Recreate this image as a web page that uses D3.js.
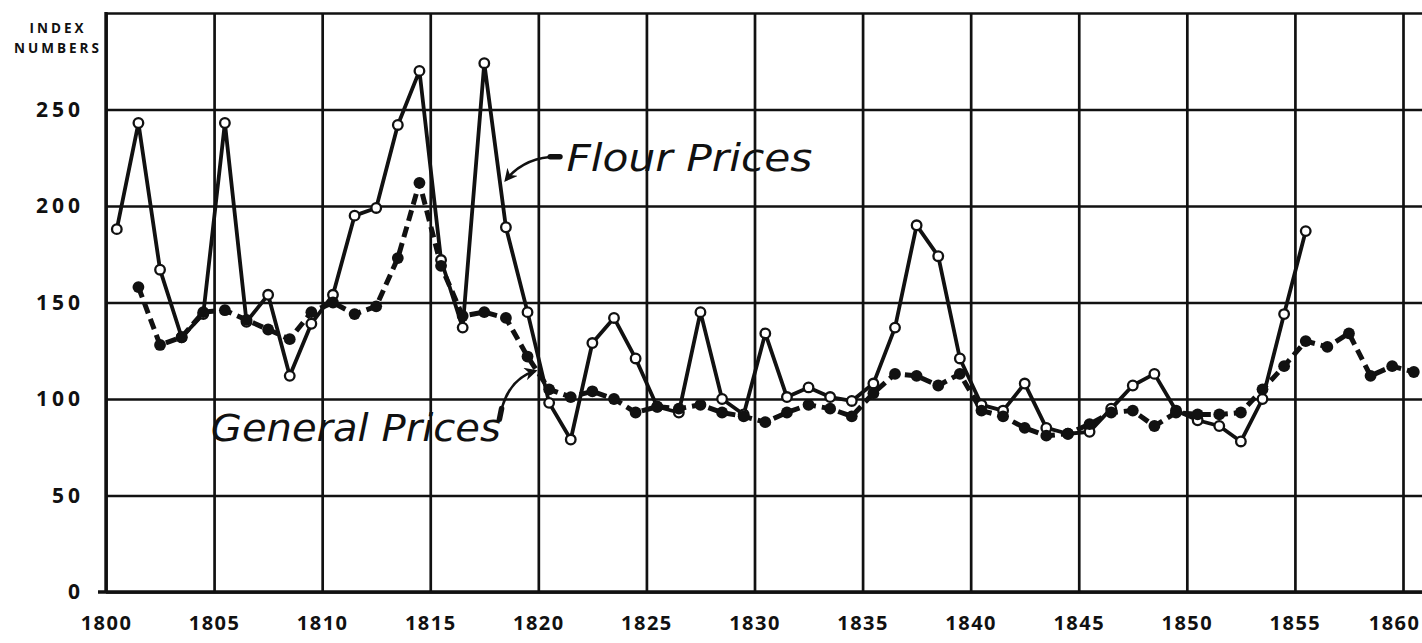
<!DOCTYPE html>
<html><head><meta charset="utf-8">
<script src="https://cdn.jsdelivr.net/npm/d3@7"></script>
<style>body{margin:0;background:#fff;} svg{display:block;}</style>
</head><body><svg id="c" width="1422" height="643"></svg>
<script>
// ---- data ----
const flourYears = [1800,1801,1802,1803,1804,1805,1806,1807,1808,1809,1810,1811,1812,1813,1814,1815,1816,1817,1818,1819,
  1820,1821,1822,1823,1824,1825,1826,1827,1828,1829,1830,1831,1832,1833,1834,1835,1836,1837,1838,1839,
  1840,1841,1842,1843,1844,1845,1846,1847,1848,1849,1850,1851,1852,1853,1854,1855];
const flourValues = [188,243,167,132,144,243,140,154,112,139,154,195,199,242,270,172,137,274,189,145,
  98,79,129,142,121,96,93,145,100,92,134,101,106,101,99,108,137,190,174,121,
  97,94,108,85,82,83,95,107,113,94,89,86,78,100,144,187];
const generalYears = [1801,1802,1803,1804,1805,1806,1807,1808,1809,1810,1811,1812,1813,1814,1815,1816,1817,1818,1819,
  1820,1821,1822,1823,1824,1825,1826,1827,1828,1829,1830,1831,1832,1833,1834,1835,1836,1837,1838,1839,
  1840,1841,1842,1843,1844,1845,1846,1847,1848,1849,1850,1851,1852,1853,1854,1855,1856,1857,1858,1859,1860];
const generalValues = [158,128,132,145,146,141,136,131,145,150,144,148,173,212,169,143,145,142,122,
  105,101,104,100,93,96,95,97,93,91,88,93,97,95,91,103,113,112,107,113,
  94,91,85,81,82,87,93,94,86,93,92,92,93,105,117,130,127,134,112,117,114];
const xTickValues = [1800,1805,1810,1815,1820,1825,1830,1835,1840,1845,1850,1855,1860];
const yTickValues = [0,50,100,150,200,250,300];
const yTickLabels = ["0","50","100","150","200","250",""];

// ---- layout ----
const W = 1422, H = 643;
const svg = d3.select("#c");
const x = d3.scaleLinear().domain([1800, 1860]).range([106, 1403]);
const y = d3.scaleLinear().domain([0, 300]).range([592, 13]);
const ink = "#111";

svg.append("rect").attr("width", W).attr("height", H).attr("fill", "#fff");

// horizontal grid + y labels
const gy = svg.append("g").attr("transform", `translate(${x(1800)},0)`)
  .call(d3.axisLeft(y).tickValues(yTickValues)
    .tickSize(-(W - x(1800)))
    .tickPadding(22)
    .tickFormat((d, i) => yTickLabels[i]));
gy.select(".domain").remove();
gy.selectAll("line").attr("stroke", ink).attr("stroke-width", 2.7);
gy.selectAll("text").attr("fill", ink)
  .style("font-family", "'Open Sans', 'DejaVu Sans', sans-serif")
  .style("font-weight", 700).style("font-size", "21px").style("letter-spacing", "4px");

// vertical grid + x labels
const gx = svg.append("g").attr("transform", `translate(0,${y(0)})`)
  .call(d3.axisBottom(x).tickValues(xTickValues)
    .tickSize(-(y(0) - y(300)))
    .tickPadding(24)
    .tickFormat(d3.format("d")));
gx.select(".domain").remove();
gx.selectAll("line").attr("stroke", ink).attr("stroke-width", 2.7);
gx.selectAll("text").attr("fill", ink)
  .style("font-family", "'Open Sans', 'DejaVu Sans', sans-serif")
  .style("font-weight", 700).style("font-size", "20px").style("letter-spacing", "1.5px");
// keep the last label inside the picture
gx.selectAll(".tick").filter(d => d === xTickValues[xTickValues.length - 1])
  .select("text").attr("text-anchor", "end").attr("x", W - 2 - x(xTickValues[xTickValues.length - 1]));

// frame: left axis & bottom line
svg.append("line").attr("x1", x(1800)).attr("x2", x(1800)).attr("y1", y(300) - 1).attr("y2", y(0) + 1)
  .attr("stroke", ink).attr("stroke-width", 3.4);
svg.append("line").attr("x1", x(1800) - 8).attr("x2", W).attr("y1", y(0)).attr("y2", y(0))
  .attr("stroke", ink).attr("stroke-width", 3.4);

// axis title
const title = svg.append("text").attr("fill", ink).attr("text-anchor", "middle")
  .style("font-family", "'Open Sans', 'DejaVu Sans', sans-serif").style("font-weight", 700)
  .style("font-size", "13.5px").style("letter-spacing", "3px");
title.append("tspan").attr("x", 58).attr("y", 33).text("INDEX");
title.append("tspan").attr("x", 58).attr("y", 53).text("NUMBERS");

// ---- series ----
const flour = flourYears.map((yr, i) => ({ yr, v: flourValues[i] }));
const general = generalYears.map((yr, i) => ({ yr, v: generalValues[i] }));
const line = d3.line().x(d => x(d.yr + 0.5)).y(d => y(d.v));

svg.append("path").datum(general).attr("d", line)
  .attr("fill", "none").attr("stroke", ink).attr("stroke-width", 5)
  .attr("stroke-dasharray", "11,6").attr("stroke-linejoin", "round");
svg.append("path").datum(flour).attr("d", line)
  .attr("fill", "none").attr("stroke", ink).attr("stroke-width", 3.8)
  .attr("stroke-linejoin", "round");

svg.append("g").selectAll("circle").data(flour).join("circle")
  .attr("cx", d => x(d.yr + 0.5)).attr("cy", d => y(d.v)).attr("r", 4.8)
  .attr("fill", "#fff").attr("stroke", ink).attr("stroke-width", 2.3);
svg.append("g").selectAll("circle").data(general).join("circle")
  .attr("cx", d => x(d.yr + 0.5)).attr("cy", d => y(d.v)).attr("r", 5.9)
  .attr("fill", ink);

// ---- annotations ----
const defs = svg.append("defs");
defs.append("marker").attr("id", "ah").attr("viewBox", "0 0 10 10").attr("refX", 8).attr("refY", 5)
  .attr("markerWidth", 5).attr("markerHeight", 5).attr("orient", "auto")
  .append("path").attr("d", "M0,0 L10,5 L0,10 L3,5 Z").attr("fill", ink);

const lab = (t, xv, yv, len) => svg.append("text").attr("x", x(xv)).attr("y", y(yv))
  .attr("fill", ink).attr("textLength", len).attr("lengthAdjust", "spacingAndGlyphs")
  .style("font-family", "'DejaVu Sans', sans-serif").style("font-style", "oblique")
  .style("font-weight", 300).style("font-size", "37px").text(t);
lab("Flour Prices", 1821.3, 218, 246);
lab("General Prices", 1804.85, 78, 290);

const arrow = (pts) => {
  const p = d3.path();
  p.moveTo(x(pts[0][0]), y(pts[0][1]));
  p.quadraticCurveTo(x(pts[1][0]), y(pts[1][1]), x(pts[2][0]), y(pts[2][1]));
  svg.append("path").attr("d", p.toString()).attr("fill", "none").attr("stroke", ink)
    .attr("stroke-width", 2.6).attr("marker-end", "url(#ah)");
  svg.append("line").attr("x1", x(pts[0][0])).attr("y1", y(pts[0][1]))
    .attr("x2", x(pts[3][0])).attr("y2", y(pts[3][1]))
    .attr("stroke", ink).attr("stroke-width", 5.5).attr("stroke-linecap", "round");
};
arrow([[1821.0, 225.5], [1819.4, 226], [1818.5, 213.5], [1820.55, 225.5]]);
arrow([[1818.2, 89.5], [1818.5, 110], [1819.85, 114.5], [1818.3, 95]]);
</script>
</body></html>
